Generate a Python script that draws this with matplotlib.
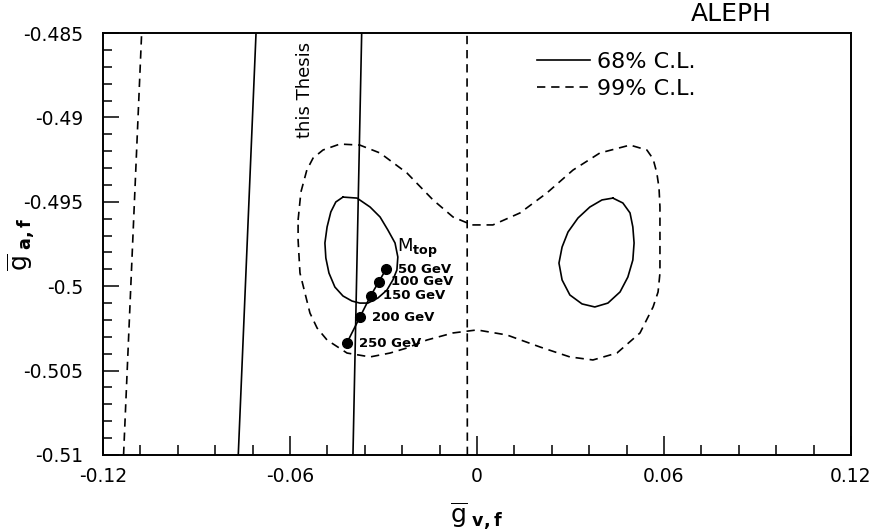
import matplotlib
matplotlib.use("Agg")
import matplotlib.pyplot as plt
from matplotlib.ticker import MultipleLocator, FixedLocator, FixedFormatter

plt.rcParams['font.family'] = ['DejaVu Sans']
plt.rcParams['mathtext.fontset'] = 'dejavusans'

# 68% C.L. contour, left island
cl68_left_x = [-0.0430, -0.0385, -0.0343, -0.0311, -0.0286, -0.0263, -0.0254, -0.0257,
               -0.0270, -0.0289, -0.0318, -0.0350, -0.0376, -0.0401, -0.0430, -0.0456,
               -0.0475, -0.0485, -0.0488, -0.0481, -0.0469, -0.0453]
cl68_left_y = [-0.49472, -0.49478, -0.49531, -0.49590, -0.49667, -0.49744, -0.49827, -0.49904,
               -0.49963, -0.50023, -0.50070, -0.50100, -0.50100, -0.50088, -0.50058, -0.50005,
               -0.49922, -0.49833, -0.49744, -0.49649, -0.49560, -0.49501]

# 68% C.L. contour, right island
cl68_right_x = [0.0436, 0.0468, 0.0491, 0.0500, 0.0504, 0.0500, 0.0484, 0.0459, 0.0420, 0.0378,
                0.0337, 0.0298, 0.0273, 0.0263, 0.0273, 0.0292, 0.0324, 0.0362, 0.0401]
cl68_right_y = [-0.49478, -0.49507, -0.49566, -0.49649, -0.49744, -0.49845, -0.49946, -0.50034,
                -0.50100, -0.50123, -0.50105, -0.50052, -0.49963, -0.49863, -0.49768, -0.49679,
                -0.49596, -0.49531, -0.49489]

# 99% C.L. contour
cl99_x = [-0.0574, -0.0565, -0.0546, -0.0526, -0.0494, -0.0440, -0.0376, -0.0311, -0.0225,
          -0.0141, -0.0077, -0.0016, 0.0051, 0.0138, 0.0224, 0.0308, 0.0394, 0.0491, 0.0545,
          0.0565, 0.0577, 0.0584, 0.0587, 0.0587, 0.0581, 0.0565, 0.0523, 0.0449, 0.0372,
          0.0298, 0.0202, 0.0096, 0.0000, -0.0077, -0.0161, -0.0225, -0.0279, -0.0343, -0.0417,
          -0.0481, -0.0513, -0.0536, -0.0568, -0.0574]
cl99_y = [-0.49608, -0.49442, -0.49312, -0.49241, -0.49193, -0.49158, -0.49164, -0.49211,
          -0.49329, -0.49489, -0.49590, -0.49637, -0.49637, -0.49566, -0.49448, -0.49312,
          -0.49211, -0.49164, -0.49193, -0.49246, -0.49329, -0.49418, -0.49531, -0.49922,
          -0.50034, -0.50123, -0.50277, -0.50396, -0.50437, -0.50419, -0.50360, -0.50289,
          -0.50259, -0.50277, -0.50319, -0.50366, -0.50396, -0.50419, -0.50396, -0.50319,
          -0.50248, -0.50159, -0.49922, -0.49726]

# Band from this thesis: 68% edges (solid) and 99% edges (dashed)
band_y = [-0.51, -0.485]
band68_lo_x = [-0.0766, -0.0709]
band68_hi_x = [-0.0398, -0.0370]
band99_lo_x = [-0.1134, -0.1076]
band99_hi_x = [-0.0031, -0.0032]

# Standard Model prediction versus top mass
mtop_labels = ['50 GeV', '100 GeV', '150 GeV', '200 GeV', '250 GeV']
mtop_x = [-0.0292, -0.0315, -0.0341, -0.0376, -0.0418]
mtop_y = [-0.49900, -0.49973, -0.50056, -0.50184, -0.50338]

xticks = [-0.12, -0.06, 0.0, 0.06, 0.12]
xtick_labels = ['-0.12', '-0.06', '0', '0.06', '0.12']
yticks = [-0.485, -0.49, -0.495, -0.5, -0.505, -0.51]
ytick_labels = ['-0.485', '-0.49', '-0.495', '-0.5', '-0.505', '-0.51']

W, H = 878, 532
fig = plt.figure(figsize=(W / 100, H / 100), dpi=100)
ax = fig.add_axes([103 / W, 1 - 455 / H, 748 / W, 422 / H])

lw = 1.2
dash = (0, (5, 3.5))

h68, = ax.plot(cl68_left_x + cl68_left_x[:1], cl68_left_y + cl68_left_y[:1],
               color='black', lw=lw, label='68% C.L.')
ax.plot(cl68_right_x + cl68_right_x[:1], cl68_right_y + cl68_right_y[:1], color='black', lw=lw)
h99, = ax.plot(cl99_x + cl99_x[:1], cl99_y + cl99_y[:1], color='black', lw=lw,
               linestyle=dash, label='99% C.L.')

ax.plot(band68_lo_x, band_y, color='black', lw=lw)
ax.plot(band68_hi_x, band_y, color='black', lw=lw)
ax.plot(band99_lo_x, band_y, color='black', lw=lw, linestyle=dash)
ax.plot(band99_hi_x, band_y, color='black', lw=lw, linestyle=dash)

ax.plot(mtop_x, mtop_y, color='black', lw=lw, marker='o', markersize=7, zorder=5)
for lbl, x, y in zip(mtop_labels, mtop_x, mtop_y):
    ax.annotate(lbl, (x, y), xytext=(9, 0), textcoords='offset points',
                va='center', ha='left', fontsize=9.5, fontweight='bold')
ax.text(-0.0257, -0.4980, r'M$_{\mathbf{top}}$', fontsize=13, ha='left', va='baseline')

ax.text(-0.0552, -0.48838, 'this Thesis', rotation=90, ha='center', va='center', fontsize=13)

ax.set_xlim(-0.12, 0.12)
ax.set_ylim(-0.51, -0.485)

ax.xaxis.set_major_locator(FixedLocator(xticks))
ax.xaxis.set_major_formatter(FixedFormatter(xtick_labels))
ax.yaxis.set_major_locator(FixedLocator(yticks))
ax.yaxis.set_major_formatter(FixedFormatter(ytick_labels))
ax.xaxis.set_minor_locator(MultipleLocator(0.012))
ax.yaxis.set_minor_locator(MultipleLocator(0.001))

ax.tick_params(which='both', direction='in', top=False, right=False, width=1.1, labelsize=13.5)
ax.tick_params(axis='x', which='major', length=14, pad=9)
ax.tick_params(axis='x', which='minor', length=7)
ax.tick_params(axis='y', which='major', length=11.5, pad=14)
ax.tick_params(axis='y', which='minor', length=6.5)
for s in ax.spines.values():
    s.set_linewidth(1.4)

ax.set_xlabel(r'$\overline{\mathrm{g}}_{\ \mathbf{v,f}}$', fontsize=18)
ax.xaxis.set_label_coords(0.5, -0.108)
ax.set_ylabel(r'$\overline{\mathrm{g}}_{\ \mathbf{a,f}}$', fontsize=18)
ax.yaxis.set_label_coords(-0.088, 0.5)

ax.legend(handles=[h68, h99], loc='upper left', bbox_to_anchor=(0.58, 0.955),
          frameon=False, fontsize=16, handlelength=2.4, handletextpad=0.3,
          labelspacing=0.3, borderpad=0, borderaxespad=0)

fig.text(731 / W, 1 - 14 / H, 'ALEPH', ha='center', va='center', fontsize=18)

fig.savefig('out.png', dpi=100)
